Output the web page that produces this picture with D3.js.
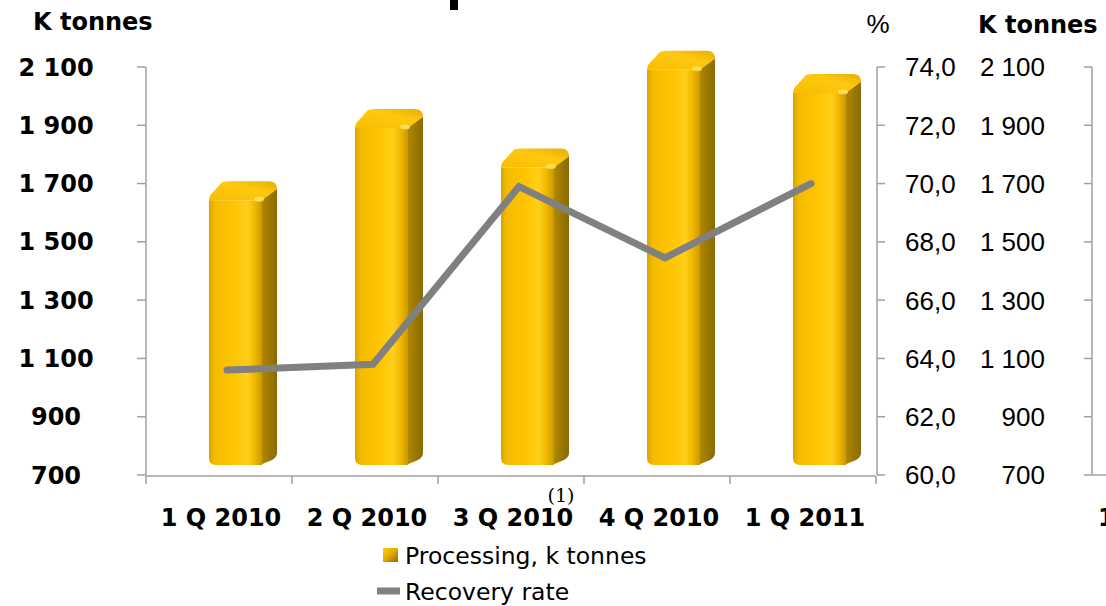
<!DOCTYPE html>
<html>
<head>
<meta charset="utf-8">
<script src="https://cdn.jsdelivr.net/npm/d3@7"></script>
<style>
  html, body { margin: 0; padding: 0; background: #fff; }
  svg { display: block; }
</style>
</head>
<body>
<div id="chart"></div>
<script>
// ---- data ----
const categories = ["1 Q 2010", "2 Q 2010", "3 Q 2010", "4 Q 2010", "1 Q 2011"];
const processing = [1660, 1908, 1772, 2108, 2028];          // k tonnes
const recoveryRate = [63.6, 63.8, 69.9, 67.45, 70.0];       // %
const leftTicks = [700, 900, 1100, 1300, 1500, 1700, 1900, 2100];
const pctTicks = [60, 62, 64, 66, 68, 70, 72, 74];
const seriesNames = ["Processing, k tonnes", "Recovery rate"];

const W = 1106, H = 606;
const svg = d3.select("#chart").append("svg").attr("width", W).attr("height", H);

const plotLeft = 146, plotRight = 876, plotTop = 67, plotBottom = 475;

const x = d3.scaleBand().domain(categories).range([plotLeft, plotRight]).paddingInner(0).paddingOuter(0);
const yL = d3.scaleLinear().domain([700, 2100]).range([plotBottom, plotTop]);
const yP = d3.scaleLinear().domain([60, 74]).range([plotBottom, plotTop]);

const axisColor = "#a0a0a0";
const fmtK = d => d3.format(",")(d).replace(/,/g, " ");
const fmtP = d => d3.format(".1f")(d).replace(".", ",");

// ---- gradients ----
const defs = svg.append("defs");
const gFront = defs.append("linearGradient").attr("id", "gFront").attr("x1", 0).attr("x2", 1).attr("y1", 0).attr("y2", 0);
[[0, "#D9A600"], [0.12, "#F5BC00"], [0.45, "#FFC400"], [0.72, "#FFCF1A"], [0.86, "#F2B800"], [1, "#C99800"]]
  .forEach(([o, c]) => gFront.append("stop").attr("offset", o).attr("stop-color", c));
const gSide = defs.append("linearGradient").attr("id", "gSide").attr("x1", 0).attr("x2", 1).attr("y1", 0).attr("y2", 0);
[[0, "#B88C00"], [0.5, "#9E7A00"], [1, "#8A6A00"]]
  .forEach(([o, c]) => gSide.append("stop").attr("offset", o).attr("stop-color", c));
const gTop = defs.append("linearGradient").attr("id", "gTop").attr("x1", 0).attr("x2", 1).attr("y1", 1).attr("y2", 0);
[[0, "#F7BD00"], [0.6, "#FFC810"], [1, "#E6AE00"]]
  .forEach(([o, c]) => gTop.append("stop").attr("offset", o).attr("stop-color", c));
const gLeg = defs.append("linearGradient").attr("id", "gLeg").attr("x1", 0).attr("x2", 1).attr("y1", 0).attr("y2", 1);
[[0, "#FFD000"], [0.5, "#E0A800"], [1, "#8A6A00"]]
  .forEach(([o, c]) => gLeg.append("stop").attr("offset", o).attr("stop-color", c));

// ---- bars (3D cylinder-ish columns) ----
const dx = 15, dy = 14;
const baseY = yL(700) - 10;
const bars = svg.append("g");
categories.forEach((c, i) => {
  const cx = x(c) + x.bandwidth() / 2;
  const x0 = cx - 10, x1 = cx + 43;
  const yt = yL(processing[i]);
  const r = 7;
  // side
  bars.append("path")
    .attr("d", `M${x1 - 2},${yt} L${x1 + dx - 4},${yt - dy + 2} Q${x1 + dx},${yt - dy + 4} ${x1 + dx},${yt - dy + 10}
                L${x1 + dx},${baseY - dy + 2} Q${x1 + dx},${baseY - dy + 6} ${x1 + dx - 5},${baseY - dy + 9}
                L${x1 - 2},${baseY} Z`)
    .attr("fill", "url(#gSide)");
  // top
  bars.append("path")
    .attr("d", `M${x0},${yt + 5} Q${x0},${yt} ${x0 + 5},${yt - 4} L${x0 + dx - 2},${yt - dy + 1} Q${x0 + dx + 2},${yt - dy} ${x0 + dx + 6},${yt - dy}
                L${x1 + dx - 8},${yt - dy} Q${x1 + dx},${yt - dy} ${x1 + dx},${yt - dy + 8}
                L${x1},${yt + 5} Z`)
    .attr("fill", "url(#gTop)");
  // front
  bars.append("path")
    .attr("d", `M${x0},${yt + 5} L${x1},${yt + 5} L${x1},${baseY} L${x0 + r},${baseY} Q${x0},${baseY} ${x0},${baseY - r} Z`)
    .attr("fill", "url(#gFront)");
  // highlight on the top edge
  bars.append("ellipse")
    .attr("cx", x1 - 3).attr("cy", yt + 4).attr("rx", 5).attr("ry", 2.5)
    .attr("fill", "#FFE66A").attr("opacity", 0.8);
});

// ---- axes ----
const axes = svg.append("g").attr("stroke", axisColor).attr("stroke-width", 1.5).attr("fill", "none");
// left
axes.append("line").attr("x1", plotLeft).attr("x2", plotLeft).attr("y1", plotTop).attr("y2", plotBottom);
leftTicks.forEach(t => axes.append("line").attr("x1", plotLeft - 9).attr("x2", plotLeft).attr("y1", yL(t)).attr("y2", yL(t)));
// bottom
axes.append("line").attr("x1", plotLeft).attr("x2", plotRight).attr("y1", plotBottom + 1).attr("y2", plotBottom + 1);
categories.forEach(c => axes.append("line").attr("x1", x(c)).attr("x2", x(c)).attr("y1", plotBottom + 1).attr("y2", plotBottom + 9));
axes.append("line").attr("x1", plotRight).attr("x2", plotRight).attr("y1", plotBottom + 1).attr("y2", plotBottom + 9);
// right (%)
axes.append("line").attr("x1", plotRight + 1).attr("x2", plotRight + 1).attr("y1", plotTop).attr("y2", plotBottom);
pctTicks.forEach(t => axes.append("line").attr("x1", plotRight + 1).attr("x2", plotRight + 9).attr("y1", yP(t)).attr("y2", yP(t)));
// far right axis (next chart, cut off)
const farX = 1092;
axes.append("line").attr("x1", farX).attr("x2", farX).attr("y1", plotTop).attr("y2", plotBottom);
leftTicks.forEach(t => axes.append("line").attr("x1", farX - 8).attr("x2", farX).attr("y1", yL(t)).attr("y2", yL(t)));
axes.append("line").attr("x1", farX).attr("x2", W).attr("y1", plotBottom).attr("y2", plotBottom);

// ---- recovery line ----
const line = d3.line()
  .x((d, i) => x(categories[i]) + x.bandwidth() / 2 + 8)
  .y(d => yP(d));
svg.append("path").datum(recoveryRate)
  .attr("d", line)
  .attr("fill", "none").attr("stroke", "#808080").attr("stroke-width", 7)
  .attr("stroke-linecap", "round").attr("stroke-linejoin", "miter");

// ---- labels ----
const boldFont = "DejaVu Sans, Verdana, sans-serif";
const regFont = "Liberation Sans, Arial, sans-serif";

svg.append("g").selectAll("text").data(leftTicks).join("text")
  .attr("x", 56).attr("y", d => yL(d)).attr("dy", "0.36em")
  .attr("text-anchor", "middle").attr("font-family", boldFont).attr("font-weight", "bold").attr("font-size", 24)
  .attr("fill", "#000").text(fmtK);

svg.append("text").attr("x", 33).attr("y", 30)
  .attr("font-family", boldFont).attr("font-weight", "bold").attr("font-size", 24).attr("fill", "#000").text("K tonnes");

svg.append("g").selectAll("text").data(categories).join("text")
  .attr("x", d => x(d) + x.bandwidth() / 2 + 2).attr("y", 526)
  .attr("text-anchor", "middle").attr("font-family", boldFont).attr("font-weight", "bold").attr("font-size", 24)
  .attr("fill", "#000").text(d => d);

svg.append("text").attr("x", 561).attr("y", 502).attr("text-anchor", "middle")
  .attr("font-family", "DejaVu Serif, serif").attr("font-size", 19).attr("fill", "#000").text("(1)");

svg.append("g").selectAll("text").data(pctTicks).join("text")
  .attr("x", 905).attr("y", d => yP(d)).attr("dy", "0.36em")
  .attr("font-family", regFont).attr("font-size", 26).attr("fill", "#000").text(fmtP);

svg.append("text").attr("x", 878).attr("y", 33).attr("text-anchor", "middle")
  .attr("font-family", regFont).attr("font-size", 26).attr("fill", "#000").text("%");

svg.append("g").selectAll("text").data(leftTicks).join("text")
  .attr("x", 1045).attr("y", d => yL(d)).attr("dy", "0.36em").attr("text-anchor", "end")
  .attr("font-family", regFont).attr("font-size", 26).attr("fill", "#000").text(fmtK);

svg.append("text").attr("x", 978).attr("y", 33)
  .attr("font-family", boldFont).attr("font-weight", "bold").attr("font-size", 24).attr("fill", "#000").text("K tonnes");

svg.append("text").attr("x", 1098).attr("y", 526)
  .attr("font-family", boldFont).attr("font-weight", "bold").attr("font-size", 24).attr("fill", "#000").text("1");

// fragment of cut-off title
svg.append("rect").attr("x", 450).attr("y", 0).attr("width", 8).attr("height", 10).attr("fill", "#000");

// ---- legend ----
const leg = svg.append("g");
leg.append("rect").attr("x", 383).attr("y", 548).attr("width", 15).attr("height", 14).attr("fill", "url(#gLeg)");
leg.append("text").attr("x", 405).attr("y", 564)
  .attr("font-family", boldFont).attr("font-size", 23.5).attr("fill", "#000").text(seriesNames[0]);
leg.append("line").attr("x1", 377).attr("x2", 400).attr("y1", 591).attr("y2", 591)
  .attr("stroke", "#808080").attr("stroke-width", 7);
leg.append("text").attr("x", 405).attr("y", 600)
  .attr("font-family", boldFont).attr("font-size", 23.5).attr("fill", "#000").text(seriesNames[1]);
</script>
</body>
</html>
